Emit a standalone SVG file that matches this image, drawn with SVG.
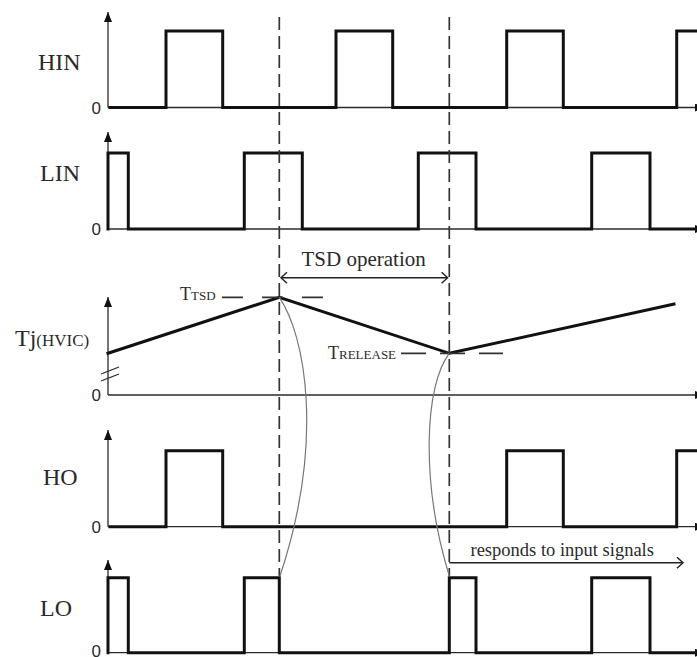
<svg xmlns="http://www.w3.org/2000/svg" width="697" height="657" viewBox="0 0 697 657">
<defs>
<marker id="ah" markerUnits="userSpaceOnUse" markerWidth="12" markerHeight="10" refX="10" refY="4" orient="auto">
<path d="M0,0 L10,4 L0,8 z" fill="#111"/>
</marker>
<marker id="chev" markerUnits="userSpaceOnUse" markerWidth="10" markerHeight="14" refX="7" refY="6" orient="auto-start-reverse">
<path d="M1,0.5 L7,6 L1,11.5" fill="none" stroke="#222" stroke-width="1.4"/>
</marker>
</defs>
<style>
.axis{fill:none;stroke:#2a2a2a;stroke-width:1.3}
.sig{fill:none;stroke:#111;stroke-width:3;stroke-linejoin:miter;stroke-linecap:square}
.vdash{fill:none;stroke:#333;stroke-width:1.7;stroke-dasharray:13 6}
.hdash{fill:none;stroke:#333;stroke-width:1.7}
.thin{fill:none;stroke:#777;stroke-width:1.2}
.lbl{font-family:"Liberation Serif","Times New Roman",serif;fill:#2a2a2a}
.zero{font-family:"Liberation Sans",Arial,sans-serif;font-size:17px;fill:#2a2a2a;text-anchor:end}
.dim{fill:none;stroke:#222;stroke-width:1.4}
</style>
<rect width="697" height="657" fill="#fff"/>

<g id="hin">
<line class="axis" x1="108" y1="107.5" x2="108" y2="12" marker-end="url(#ah)"/>
<line class="axis" x1="108" y1="107.5" x2="705" y2="107.5" marker-end="url(#ah)"/>
<path class="sig" d="M110,107.5 H166 V31 H222.7 V107.5 H336 V31 H392.7 V107.5 H506.7 V31 H563.3 V107.5 H676.7 V31 H700"/>
<text class="lbl" x="38" y="69.5" font-size="24">HIN</text>
<text class="zero" x="101" y="113.5">0</text>
</g>

<g id="lin">
<line class="axis" x1="108" y1="229" x2="108" y2="132" marker-end="url(#ah)"/>
<line class="axis" x1="108" y1="229" x2="705" y2="229" marker-end="url(#ah)"/>
<path class="sig" d="M108,229 V153 H128.3 V229 H244.3 V153 H302.3 V229 H418.3 V153 H476 V229 H591.7 V153 H650 V229 H700"/>
<text class="lbl" x="40" y="181" font-size="24">LIN</text>
<text class="zero" x="101" y="235">0</text>
</g>

<g id="tj">
<line class="axis" x1="108" y1="395" x2="108" y2="297" marker-end="url(#ah)"/>
<line class="axis" x1="108" y1="395" x2="705" y2="395" marker-end="url(#ah)"/>
<line class="axis" x1="101" y1="374" x2="119" y2="367"/>
<line class="axis" x1="101" y1="381" x2="119" y2="374"/>
<path class="sig" stroke-linecap="butt" d="M108,353.3 L279.3,297.3 L449.3,353.3 L674,304"/>
<text class="lbl" x="15" y="346"><tspan font-size="24">Tj</tspan><tspan font-size="17">(HVIC)</tspan></text>
<text class="zero" x="101" y="401">0</text>
</g>

<g id="ho">
<line class="axis" x1="108" y1="526.7" x2="108" y2="430" marker-end="url(#ah)"/>
<line class="axis" x1="108" y1="526.7" x2="705" y2="526.7" marker-end="url(#ah)"/>
<path class="sig" d="M110,526.7 H166 V450.7 H222.7 V526.7 H506.7 V450.7 H563.3 V526.7 H676.7 V450.7 H700"/>
<text class="lbl" x="43" y="485" font-size="24">HO</text>
<text class="zero" x="101" y="533">0</text>
</g>

<g id="lo">
<line class="axis" x1="108" y1="652.7" x2="108" y2="560" marker-end="url(#ah)"/>
<line class="axis" x1="108" y1="652.7" x2="705" y2="652.7" marker-end="url(#ah)"/>
<path class="sig" d="M108,652.7 V577.7 H128.3 V652.7 H244.3 V577.7 H279.3 V652.7 H449.3 V577.7 H476 V652.7 H591.7 V577.7 H650 V652.7 H700"/>
<text class="lbl" x="40" y="616" font-size="24">LO</text>
<text class="zero" x="101" y="656.5">0</text>
</g>

<g id="ttsd">
<line class="hdash" x1="222" y1="297.3" x2="323" y2="297.3" stroke-dasharray="21 19"/>
<text class="lbl" x="180" y="300"><tspan font-size="18">T</tspan><tspan font-size="13">TSD</tspan></text>
</g>

<g id="trelease">
<line class="hdash" x1="401" y1="353.3" x2="503" y2="353.3" stroke-dasharray="25 14"/>
<text class="lbl" x="328" y="359"><tspan font-size="18">T</tspan><tspan font-size="13">RELEASE</tspan></text>
</g>

<g id="tsd-operation">
<line class="dim" x1="281" y1="277.7" x2="447.6" y2="277.7" marker-start="url(#chev)" marker-end="url(#chev)"/>
<text class="lbl" x="301.5" y="266" font-size="21">TSD operation</text>
</g>

<g id="responds">
<line class="dim" x1="449.3" y1="562.7" x2="683" y2="562.7" marker-end="url(#chev)"/>
<text class="lbl" x="470.5" y="556" font-size="18.5">responds to input signals</text>
</g>

<g id="connectors">
<line class="vdash" x1="279.3" y1="17" x2="279.3" y2="576"/>
<line class="vdash" x1="449.3" y1="17" x2="449.3" y2="576"/>
<path class="thin" d="M279.3,297.3 C305,335 325,440 280,576"/>
<path class="thin" d="M449.3,353.3 C425,385 420,480 449.3,576"/>
</g>
</svg>
